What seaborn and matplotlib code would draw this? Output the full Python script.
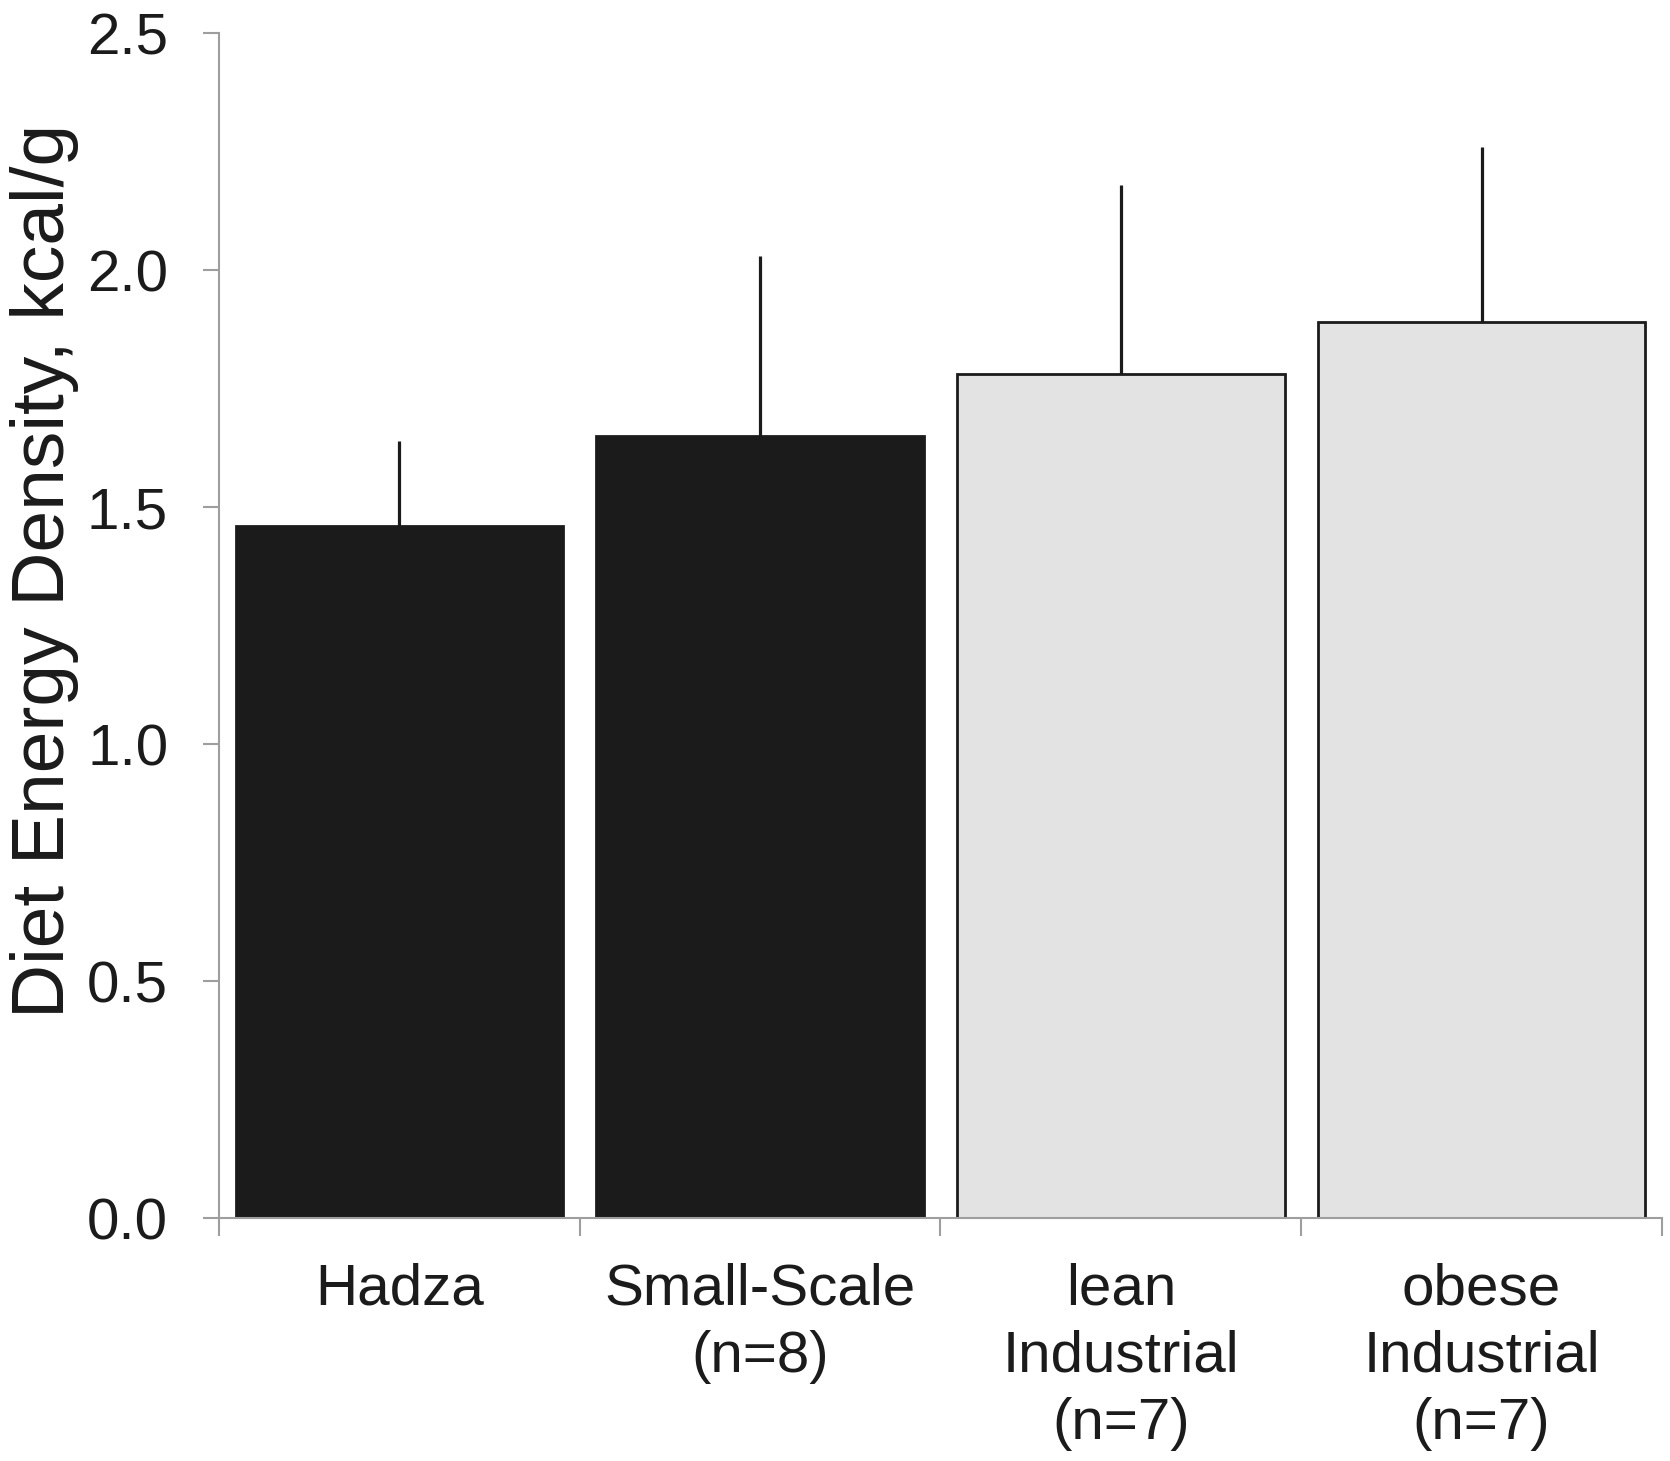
import matplotlib
matplotlib.use("Agg")
import matplotlib.pyplot as plt
import seaborn as sns
import numpy as np

# values
groups = ["Hadza", "Small-Scale\n(n=8)", "lean\nIndustrial\n(n=7)", "obese\nIndustrial\n(n=7)"]
energy_density = [1.46, 1.65, 1.78, 1.89]
energy_sd = [0.18, 0.38, 0.40, 0.37]
bar_colors = ["#1b1b1b", "#1b1b1b", "#e3e3e3", "#e3e3e3"]
y_ticks = [0.0, 0.5, 1.0, 1.5, 2.0, 2.5]

sns.set_theme(style="white")
plt.rcParams["font.family"] = ["Liberation Sans", "DejaVu Sans"]

ink = "#1b1b1b"
axis_gray = "#9e9e9e"

fig = plt.figure(figsize=(16.7, 14.61), dpi=100)
ax = fig.add_axes([0.1311, 0.1663, 0.8641, 0.8111])

sns.barplot(x=groups, y=energy_density, hue=groups, palette=bar_colors,
            legend=False, width=0.908, edgecolor=ink, linewidth=2.0,
            saturation=1, ax=ax)

# upper-only standard deviation whiskers, no caps
ax.errorbar(x=np.arange(len(groups)), y=energy_density,
            yerr=[np.zeros(len(groups)), energy_sd],
            fmt="none", ecolor=ink, elinewidth=2.3, capsize=0, zorder=3)

ax.set_xlim(-0.5, len(groups) - 0.5)
ax.set_ylim(0, 2.5)

# category boundary ticks (unlabelled) and centred labels on minor ticks
ax.set_xticks(np.arange(len(groups) + 1) - 0.5)
ax.set_xticklabels([""] * (len(groups) + 1))
ax.set_xticks(np.arange(len(groups)), minor=True)
ax.set_xticklabels(groups, minor=True, fontsize=42, color=ink, linespacing=1.32)
ax.tick_params(axis="x", which="major", bottom=True, length=13, width=1.5,
               color=axis_gray, direction="out")
ax.tick_params(axis="x", which="minor", bottom=True, length=0, pad=32)

ax.set_yticks(y_ticks)
ax.set_yticklabels([f"{v:.1f}" for v in y_ticks], fontsize=42, color=ink)
ax.tick_params(axis="y", left=True, length=11.5, width=1.5, color=axis_gray,
               direction="out", pad=25)

sns.despine(ax=ax)
for side in ["left", "bottom"]:
    ax.spines[side].set_color(axis_gray)
    ax.spines[side].set_linewidth(1.5)

ax.set_xlabel("")
ax.set_ylabel("Diet Energy Density, kcal/g", fontsize=54, color=ink)
ax.yaxis.set_label_coords(-0.097, 0.546)

fig.savefig("out.png", dpi=100)
